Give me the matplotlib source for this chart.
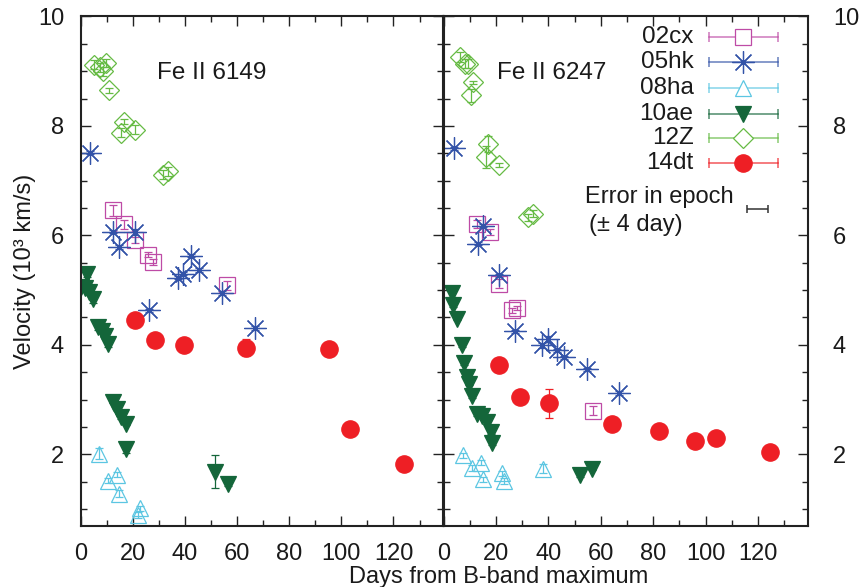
import matplotlib.pyplot as plt
from matplotlib.ticker import MultipleLocator

plt.rcParams['font.family'] = 'Liberation Sans'
plt.rcParams['font.size'] = 17

# days from B max / Fe II velocity (10^3 km/s) / error
# ---- Fe II 6149 (left panel)
a_02cx_t = [12.4, 16.5, 20.7, 25.8, 27.7, 56.2]
a_02cx_v = [6.46, 6.20, 5.92, 5.65, 5.51, 5.09]
a_02cx_e = [0.10, 0.08, 0.06, 0.05, 0.05, 0.08]

a_05hk_t = [3.6, 12.4, 14.7, 20.7, 26.4, 37.5, 39.4, 42.5, 45.4, 54.3, 66.7]
a_05hk_v = [7.51, 6.07, 5.79, 6.06, 4.63, 5.23, 5.30, 5.63, 5.37, 4.95, 4.31]
a_05hk_e = [0.03, 0.03, 0.03, 0.05, 0.03, 0.03, 0.03, 0.03, 0.03, 0.03, 0.03]

a_08ha_t = [7.1, 10.3, 13.9, 14.7, 22.6, 22.1]
a_08ha_v = [2.01, 1.52, 1.63, 1.28, 1.01, 0.89]
a_08ha_e = [0.10, 0.05, 0.04, 0.06, 0.05, 0.05]

a_10ae_t = [0.2, 1.6, 2.5, 3.3, 4.8, 6.7, 8.0, 9.3, 10.5, 12.4, 13.9, 15.6, 17.5, 17.5, 51.4, 56.5]
a_10ae_v = [5.06, 5.03, 5.29, 4.96, 4.84, 4.33, 4.26, 4.17, 4.02, 2.96, 2.83, 2.68, 2.56, 2.10, 1.68, 1.45]
a_10ae_e = [0.05, 0.05, 0.05, 0.05, 0.08, 0.05, 0.05, 0.05, 0.05, 0.03, 0.03, 0.03, 0.03, 0.07, 0.30, 0.03]

a_12Z_t = [5.2, 7.3, 8.5, 9.8, 10.9, 15.4, 16.6, 20.7, 31.5, 33.4]
a_12Z_v = [9.12, 9.07, 9.00, 9.15, 8.65, 7.88, 8.08, 7.93, 7.11, 7.17]
a_12Z_e = [0.08, 0.08, 0.08, 0.08, 0.04, 0.08, 0.04, 0.08, 0.08, 0.08]

a_14dt_t = [20.7, 28.6, 39.5, 63.6, 95.2, 103.2, 124.0]
a_14dt_v = [4.45, 4.08, 3.99, 3.95, 3.93, 2.47, 1.82]
a_14dt_e = [0.05, 0.05, 0.05, 0.15, 0.05, 0.05, 0.05]

# ---- Fe II 6247 (right panel)
b_02cx_t = [12.9, 17.7, 21.1, 26.0, 28.1, 57.1]
b_02cx_v = [6.21, 6.06, 5.12, 4.63, 4.67, 2.80]
b_02cx_e = [0.08, 0.05, 0.08, 0.04, 0.04, 0.08]

b_05hk_t = [4.0, 13.3, 15.2, 21.3, 27.2, 37.4, 39.9, 43.1, 46.0, 54.9, 66.9]
b_05hk_v = [7.59, 5.85, 6.18, 5.27, 4.25, 3.99, 4.11, 3.90, 3.77, 3.55, 3.12]
b_05hk_e = [0.03, 0.03, 0.03, 0.03, 0.03, 0.05, 0.05, 0.03, 0.03, 0.03, 0.03]

b_08ha_t = [7.5, 10.7, 14.2, 15.2, 22.2, 23.0, 38.0]
b_08ha_v = [1.98, 1.75, 1.85, 1.54, 1.65, 1.51, 1.74]
b_08ha_e = [0.04, 0.05, 0.05, 0.05, 0.05, 0.05, 0.08]

b_10ae_t = [3.1, 3.7, 5.0, 7.2, 7.9, 9.1, 9.8, 11.0, 12.6, 14.8, 16.5, 18.1, 18.4, 52.0, 56.8]
b_10ae_v = [4.95, 4.72, 4.48, 3.99, 3.67, 3.41, 3.29, 3.06, 2.73, 2.70, 2.59, 2.41, 2.20, 1.62, 1.74]
b_10ae_e = [0.08, 0.03, 0.03, 0.03, 0.03, 0.03, 0.03, 0.03, 0.03, 0.03, 0.03, 0.03, 0.03, 0.03, 0.03]

b_12Z_t = [6.3, 8.2, 9.5, 11.1, 10.4, 17.1, 16.2, 21.3, 32.3, 34.2]
b_12Z_v = [9.26, 9.14, 9.14, 8.80, 8.56, 7.67, 7.43, 7.29, 6.33, 6.40]
b_12Z_e = [0.10, 0.08, 0.08, 0.03, 0.12, 0.15, 0.20, 0.04, 0.06, 0.06]

b_14dt_t = [21.1, 29.1, 40.2, 64.1, 82.0, 96.0, 103.9, 124.6]
b_14dt_v = [3.63, 3.05, 2.93, 2.56, 2.43, 2.24, 2.29, 2.04]
b_14dt_e = [0.05, 0.05, 0.27, 0.05, 0.05, 0.05, 0.05, 0.05]

names = ['02cx', '05hk', '08ha', '10ae', '12Z', '14dt']

# marker styles for each SN
sty = {
    '02cx': dict(marker='s', ms=11, color='#be4ba6', filled=False),
    '05hk': dict(marker=(8, 2, 0), ms=16, color='#3353a8', filled=False),
    '08ha': dict(marker='^', ms=11.5, color='#5cc6e2', filled=False),
    '10ae': dict(marker='v', ms=11.5, color='#14663a', filled=True),
    '12Z': dict(marker='D', ms=10.5, color='#66bb44', filled=False),
    '14dt': dict(marker='o', ms=12.5, color='#ee1f25', filled=True),
}

left_data = {
    '02cx': (a_02cx_t, a_02cx_v, a_02cx_e),
    '05hk': (a_05hk_t, a_05hk_v, a_05hk_e),
    '08ha': (a_08ha_t, a_08ha_v, a_08ha_e),
    '10ae': (a_10ae_t, a_10ae_v, a_10ae_e),
    '12Z': (a_12Z_t, a_12Z_v, a_12Z_e),
    '14dt': (a_14dt_t, a_14dt_v, a_14dt_e),
}
right_data = {
    '02cx': (b_02cx_t, b_02cx_v, b_02cx_e),
    '05hk': (b_05hk_t, b_05hk_v, b_05hk_e),
    '08ha': (b_08ha_t, b_08ha_v, b_08ha_e),
    '10ae': (b_10ae_t, b_10ae_v, b_10ae_e),
    '12Z': (b_12Z_t, b_12Z_v, b_12Z_e),
    '14dt': (b_14dt_t, b_14dt_v, b_14dt_e),
}

frame = '#222222'

fig = plt.figure(figsize=(8.61, 5.87), dpi=100)
ax_l = fig.add_axes([0.0937, 0.1039, 0.4208, 0.8680])
ax_r = fig.add_axes([0.5151, 0.1039, 0.4233, 0.8680])


def draw(ax, data):
    for n in names:
        t, v, e = data[n]
        s = sty[n]
        ax.errorbar(t, v, yerr=e, ls='none', marker=s['marker'], ms=s['ms'],
                    mec=s['color'], mfc=s['color'] if s['filled'] else 'none',
                    mew=0.9, ecolor=s['color'], elinewidth=0.9, capsize=3,
                    capthick=0.9)


def frame_setup(ax):
    ax.set_xlim(0, 139)
    ax.set_ylim(0.69, 10)
    ax.xaxis.set_major_locator(MultipleLocator(20))
    ax.xaxis.set_minor_locator(MultipleLocator(10))
    ax.yaxis.set_major_locator(MultipleLocator(2))
    ax.yaxis.set_minor_locator(MultipleLocator(0.5))
    ax.tick_params(which='both', direction='in', top=True, right=True,
                   color=frame, labelcolor='#1a1a1a')
    ax.tick_params(which='major', length=7, width=1.0)
    ax.tick_params(which='minor', length=4, width=1.0)
    ax.tick_params(axis='x', pad=12)
    for sp in ax.spines.values():
        sp.set_linewidth(1.5)
        sp.set_color(frame)


draw(ax_l, left_data)
draw(ax_r, right_data)
frame_setup(ax_l)
frame_setup(ax_r)

ax_l.tick_params(axis='y', labelleft=True, labelright=False, pad=12)
ax_r.tick_params(axis='y', labelleft=False, labelright=True, pad=18)

ax_l.text(0.21, 0.89, 'Fe II 6149', transform=ax_l.transAxes, fontsize=17.5,
          ha='left', va='center', color='#1a1a1a')
ax_r.text(0.147, 0.89, 'Fe II 6247', transform=ax_r.transAxes, fontsize=17.5,
          ha='left', va='center', color='#1a1a1a')

# gnuplot style key: label, line with end caps, marker in the middle
key_y = [0.959, 0.910, 0.860, 0.808, 0.762, 0.712]
for n, ky in zip(names, key_y):
    s = sty[n]
    ax_r.text(0.686, ky, n, transform=ax_r.transAxes, ha='right', va='center',
              fontsize=17.5, color='#1a1a1a')
    ax_r.plot([0.728, 0.917], [ky, ky], transform=ax_r.transAxes, color=s['color'],
              lw=1.1, alpha=0.75, clip_on=False)
    ax_r.plot([0.728, 0.917], [ky, ky], transform=ax_r.transAxes, ls='none',
              marker='|', ms=7, mew=1.1, color=s['color'], alpha=0.75, clip_on=False)
    ax_r.plot([0.822], [ky], transform=ax_r.transAxes, ls='none', marker=s['marker'],
              ms=s['ms'], mec=s['color'], mfc=s['color'] if s['filled'] else 'white',
              mew=0.9, clip_on=False)

ax_r.text(0.388, 0.645, 'Error in epoch', transform=ax_r.transAxes, ha='left',
          va='center', fontsize=17, color='#1a1a1a')
ax_r.text(0.398, 0.590, '(± 4 day)', transform=ax_r.transAxes, ha='left',
          va='center', fontsize=17, color='#1a1a1a')
ax_r.errorbar([119.8], [6.48], xerr=4, fmt='none', ecolor='#333333', elinewidth=1.1,
              capsize=3, capthick=1.1)

fig.text(0.5796, 0.006, 'Days from B-band maximum', ha='center', va='baseline',
         fontsize=17, color='#1a1a1a')
fig.text(0.029, 0.538, 'Velocity (10³ km/s)', rotation=90, ha='center', va='center',
         fontsize=17, color='#1a1a1a')

fig.savefig('out.png', dpi=100)
